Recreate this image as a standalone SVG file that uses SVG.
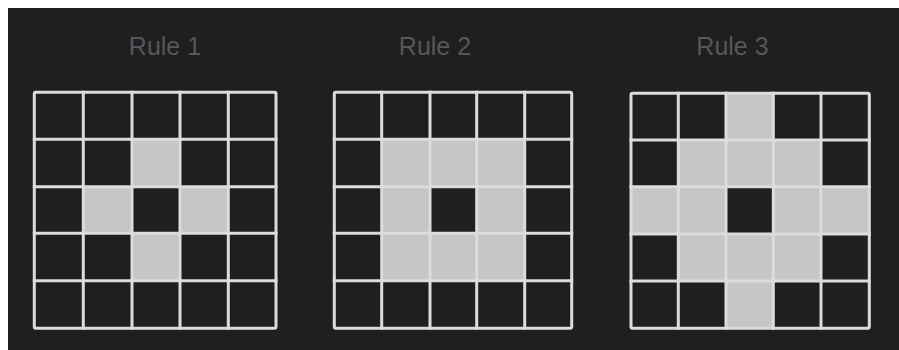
<svg xmlns="http://www.w3.org/2000/svg" width="899" height="350" viewBox="0 0 899 350">
<style>
.bg{fill:#1f1f1f}
.t{font-family:"Liberation Sans",Arial,sans-serif;font-size:25px;fill:#575757;text-anchor:middle}
.on{fill:#c6c6c6}
.ln{stroke:#dcdcdc;stroke-width:3;fill:none;stroke-linecap:square}
.fr{stroke:#dcdcdc;stroke-width:3;fill:none}
</style>
<rect x="0" y="0" width="899" height="350" fill="#ffffff"/>
<rect class="bg" x="8" y="8" width="891" height="342"/>

<g id="rule1">
<text class="t" x="165" y="55">Rule 1</text>
<rect class="on" x="132" y="139.3" width="48" height="47.4"/>
<rect class="on" x="83.3" y="186.7" width="48.7" height="46.6"/>
<rect class="on" x="180" y="186.7" width="48.3" height="46.6"/>
<rect class="on" x="132" y="233.3" width="48" height="47.4"/>
<path class="ln" d="M83.3 92.3V328.3M132 92.3V328.3M180 92.3V328.3M228.3 92.3V328.3M34.3 139.3H276M34.3 186.7H276M34.3 233.3H276M34.3 280.7H276"/>
<rect class="fr" x="34.3" y="92.3" width="241.7" height="236" rx="1.5"/>
</g>

<g id="rule2">
<text class="t" x="435" y="55">Rule 2</text>
<path class="on" d="M381.7 139.3H524.7V280.7H381.7ZM430 186.7V233.3H476.7V186.7Z" fill-rule="evenodd"/>
<path class="ln" d="M381.7 92.3V328.3M430 92.3V328.3M476.7 92.3V328.3M524.7 92.3V328.3M334.3 139.3H571.7M334.3 186.7H571.7M334.3 233.3H571.7M334.3 280.7H571.7"/>
<rect class="fr" x="334.3" y="92.3" width="237.4" height="236" rx="1.5"/>
</g>

<g id="rule3">
<text class="t" x="732.5" y="55">Rule 3</text>
<path class="on" d="M726 93.3H773.3V140H821V186.7H869.3V234H821V281H773.3V328.3H726V281H678.3V234H631V186.7H678.3V140H726ZM726 186.7V234H773.3V186.7Z" fill-rule="evenodd"/>
<path class="ln" d="M678.3 93.3V328.3M726 93.3V328.3M773.3 93.3V328.3M821 93.3V328.3M631 140H869.3M631 186.7H869.3M631 234H869.3M631 281H869.3"/>
<rect class="fr" x="631" y="93.3" width="238.3" height="235" rx="1.5"/>
</g>
</svg>
